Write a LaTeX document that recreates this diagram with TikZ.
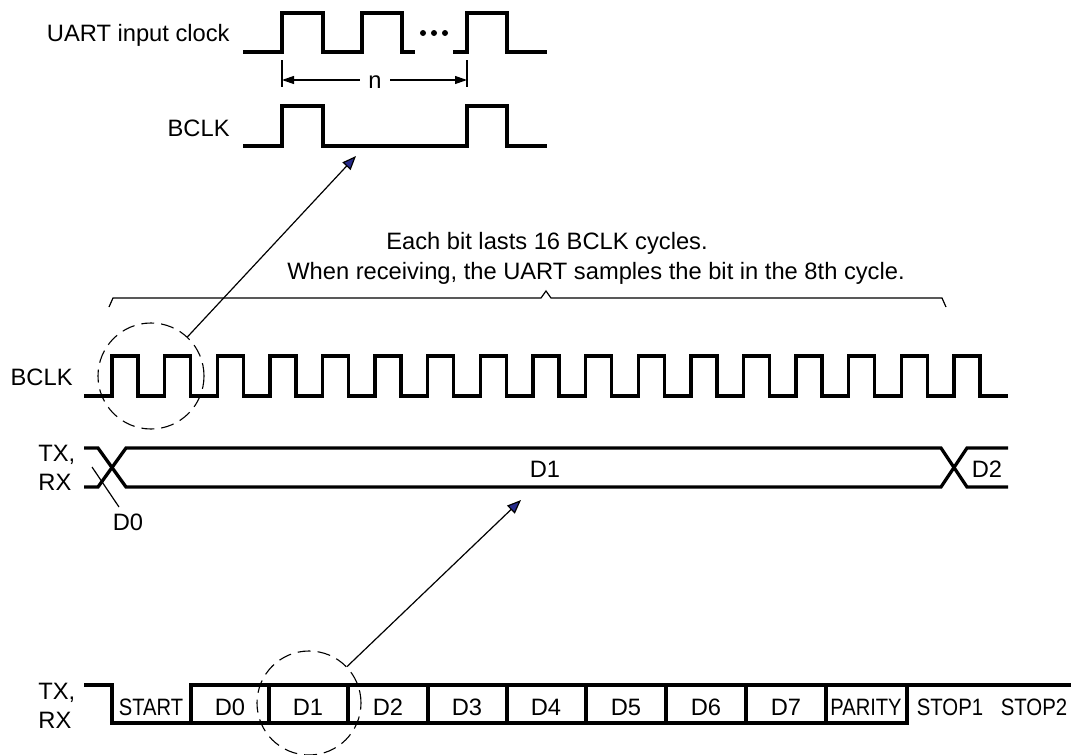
\documentclass[tikz,border=0pt]{standalone}
\usepackage{fontspec}
\usepackage{graphicx}
\setmainfont{Liberation Sans}
\usetikzlibrary{arrows.meta}
\definecolor{tipblue}{RGB}{38,42,138}

\begin{document}
\begin{tikzpicture}[x=0.5pt,y=-0.5pt,
	sig/.style={line width=1.65pt},
	thinln/.style={line width=0.6pt},
	dashcirc/.style={circle,draw,line width=0.55pt,dash pattern=on 6.5pt off 3.5pt,inner sep=0pt},
	ptr/.style={thinln,-{Triangle[length=7pt,width=5.5pt,fill=tipblue]}},
	dim/.style={thinln,-{Triangle[length=6pt,width=4pt]}},
	lbl/.style={font=\fontsize{11.85}{14.5}\selectfont,inner sep=0pt}]
	\useasboundingbox (0,0) rectangle (1073,755);
	
	\node[lbl,anchor=east] (uclk) at (230,35) {UART input clock};
	\draw[sig] (243,52) -- (282,52) -- (282,13) -- (323,13) -- (323,52) -- (362,52)
		-- (362,13) -- (402,13) -- (402,52) -- (415,52);
	\draw[sig] (453,52) -- (467,52) -- (467,13) -- (507,13) -- (507,52) -- (547,52);
	\foreach \x in {423,434,445}
		\fill (\x,33) circle (3);
	
	\coordinate (NL) at (282,80);
	\coordinate (NR) at (467,80);
	\draw[thinln] (282,60) -- (282,87);
	\draw[thinln] (467,60) -- (467,87);
	\node[lbl,minimum width=15pt] (n) at (375,82) {n};
	\draw[dim] (n.west |- NL) -- (NL);
	\draw[dim] (n.east |- NR) -- (NR);
	
	\node[lbl,anchor=east] (bclk1) at (230,128) {BCLK};
	\draw[sig] (243,146) -- (282,146) -- (282,106) -- (323,106) -- (323,146)
		-- (467,146) -- (467,106) -- (507,106) -- (507,146) -- (547,146);
	
	\node[lbl] (txt1) at (547,243) {Each bit lasts 16 BCLK cycles.};
	\node[lbl] (txt2) at (596,273) {When receiving, the UART samples the bit in the 8th cycle.};
	\draw[thinln] (109,307) -- (113,298) -- (541,298) -- (546,291) -- (551,298)
		-- (942,298) -- (946,307);
	
	\node[lbl,anchor=east] (bclk2) at (73,377) {BCLK};
	\draw[sig] (84,396) \foreach \k in {0,...,16} {
		-- ({112+52.625*\k},396) -- ({112+52.625*\k},356)
		-- ({138+52.625*\k},356) -- ({138+52.625*\k},396) } -- (1008,396);
	
	\node[lbl,anchor=west,align=left] (txrx1) at (38,468) {TX,\\RX};
	\draw[sig] (84,448) -- (98,448) -- (126,487) -- (941,487) -- (967,448) -- (1008,448);
	\draw[sig] (84,487) -- (98,487) -- (126,448) -- (941,448) -- (967,487) -- (1008,487);
	\node[lbl] (d1) at (545,469) {D1};
	\node[lbl] (d2) at (987,469) {D2};
	\node[lbl] (d0) at (128,522) {D0};
	\coordinate (X) at (92,467);
	\coordinate (Y) at (119,507);
	\draw[thinln] (X) -- (Y);
	
	\node[lbl,anchor=west,align=left] (txrx2) at (38,706) {TX,\\RX};
	\draw[sig] (84,685) -- (112,685) -- (112,723) -- (907,723) -- (907,685);
	\draw[sig] (191,723) -- (191,685) -- (1071,685);
	\foreach \x in {269,348,428,507,586,666,746,826}
		\draw[sig] (\x,685) -- (\x,723);
	\foreach \x/\t in {151/\scalebox{0.85}[1]{START},230/D0,308/D1,388/D2,467/D3,
		546/D4,626/D5,706/D6,786/D7,866/\scalebox{0.85}[1]{PARITY},
		950/\scalebox{0.86}[1]{STOP1},1034/\scalebox{0.86}[1]{STOP2}}
		\node[lbl] at (\x,707) {\t};
	
	\node[dashcirc,minimum size=53pt] (c1) at (151,376) {};
	\coordinate (T1) at (356,156);
	\draw[ptr] (c1) -- (T1);
	\node[dashcirc,minimum size=52pt] (c2) at (309,703) {};
	\coordinate (T2) at (521,500);
	\draw[ptr] (c2) -- (T2);
\end{tikzpicture}
\end{document}
